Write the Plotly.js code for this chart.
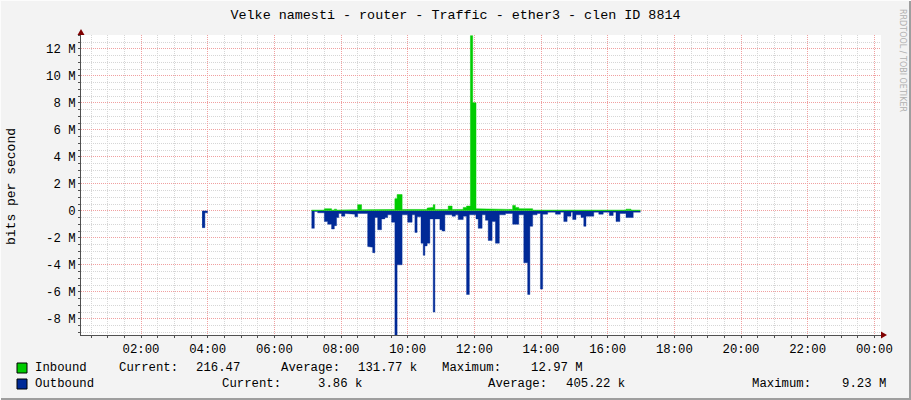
<!DOCTYPE html>
<html><head><meta charset="utf-8">
<script src="https://cdn.plot.ly/plotly-3.0.1.min.js"></script>
<style>html,body{margin:0;padding:0;background:#f3f3f3;}#chart{width:911px;height:400px;}</style>
</head><body><div id="chart"></div>
<script>
const DAY = '2020-01-01';
const NEXT = '2020-01-02';
const chartTitle = 'Velke namesti - router - Traffic - ether3 - clen ID 8814';
const yAxisTitle = 'bits per second';

// Inbound (bits/s), step segments starting at each time; null = no data from there
const inTimes = ['07:07','07:30','07:43','07:48','07:52','08:01','08:30','08:37','08:48','09:37','09:41','09:50','10:35','10:40','10:46','10:49','11:13','11:20','11:40','11:46','11:53','11:57','12:03','12:45','12:56','13:09','13:14','13:20','13:45','16:33','16:42','16:59'];
const inValues = [50e3,150e3,50e3,120e3,50e3,80e3,450e3,80e3,100e3,900e3,1200e3,100e3,200e3,250e3,450e3,100e3,350e3,100e3,250e3,350e3,12970e3,8000e3,150e3,120e3,100e3,400e3,250e3,150e3,50e3,120e3,50e3,null];

// Outbound (bits/s), drawn below zero
const outTimes = ['03:50','03:55','04:00','07:07','07:12','07:18','07:30','07:36','07:43','07:48','07:52','07:56','08:01','08:07','08:12','08:25','08:30','08:48','08:53','08:57','09:01','09:06','09:13','09:19','09:24','09:31','09:37','09:41','09:50','10:00','10:08','10:13','10:17','10:24','10:28','10:31','10:35','10:40','10:46','10:49','10:58','11:02','11:07','11:20','11:26','11:31','11:40','11:46','11:51','12:03','12:07','12:14','12:20','12:25','12:32','12:38','12:45','12:56','13:09','13:20','13:29','13:36','13:40','13:45','13:53','13:59','14:03','14:12','14:26','14:35','14:41','14:47','14:54','14:57','15:03','15:12','15:17','15:21','15:35','15:44','15:52','16:03','16:10','16:15','16:22','16:33','16:46','16:59'];
const outValues = [1250e3,150e3,null,1300e3,50e3,150e3,800e3,1000e3,1350e3,1100e3,500e3,200e3,400e3,200e3,250e3,450e3,200e3,2650e3,2700e3,3100e3,500e3,1400e3,600e3,500e3,300e3,850e3,9230e3,4000e3,300e3,850e3,300e3,1600e3,450e3,2400e3,3300e3,2600e3,2400e3,600e3,7500e3,600e3,1400e3,1500e3,300e3,400e3,300e3,650e3,400e3,6200e3,300e3,600e3,1300e3,300e3,700e3,2200e3,800e3,2400e3,300e3,200e3,1000e3,300e3,3850e3,6200e3,1150e3,300e3,200e3,5800e3,250e3,100e3,250e3,100e3,800e3,400e3,100e3,650e3,300e3,500e3,1150e3,400e3,100e3,250e3,100e3,350e3,100e3,800e3,200e3,500e3,100e3,null];

const yTickVals = [-8e6,-6e6,-4e6,-2e6,0,2e6,4e6,6e6,8e6,10e6,12e6];
const yTickText = ['-8 M','-6 M','-4 M','-2 M','0','2 M','4 M','6 M','8 M','10 M','12 M'];

const seriesNames = ['Inbound','Outbound'];
const seriesColors = ['#00cc00','#002a97'];
const statLabels = ['Current:','Average:','Maximum:'];
const inboundStats = ['216.47','131.77 k','12.97 M'];
const outboundStats = ['3.86 k','405.22 k','9.23 M'];

// split into continuous runs of step segments
function runs(times, vals, sign){
  const out=[]; let cur=null;
  for(let i=0;i<times.length;i++){
    if(vals[i]===null){ if(cur){out.push(cur); cur=null;} continue; }
    if(!cur) cur={x:[],y:[]};
    cur.x.push(DAY+' '+times[i], DAY+' '+times[i+1]);
    cur.y.push(sign*vals[i], sign*vals[i]);
  }
  if(cur) out.push(cur);
  return out;
}

const L=81, T=35, W=800, H=300;
const px = v => (v-L)/W;
const py = v => (T+H-v)/H;

const traces = [];
runs(outTimes, outValues, -1).forEach(r=>traces.push({x:r.x, y:r.y, type:'scatter', mode:'lines', fill:'tozeroy',
  fillcolor:seriesColors[1], line:{color:seriesColors[1], width:0.4}, hoverinfo:'skip', name:seriesNames[1]}));
runs(inTimes, inValues, 1).forEach(r=>traces.push({x:r.x, y:r.y, type:'scatter', mode:'lines', fill:'tozeroy',
  fillcolor:seriesColors[0], line:{color:seriesColors[0], width:0.5}, hoverinfo:'skip', name:seriesNames[0]}));

const FONT = 'Liberation Mono, DejaVu Sans Mono, monospace';
const ann = [];
function txt(x, y, s, opt){ ann.push(Object.assign({xref:'paper', yref:'paper', x:px(x), y:py(y), text:s, showarrow:false,
  xanchor:'left', yanchor:'middle', font:{family:FONT, size:12.3, color:'#000'}}, opt||{})); }

txt(12, 187, yAxisTitle, {xanchor:'center', textangle:-90, font:{family:FONT, size:13, color:'#000'}});
txt(903, 60, 'RRDTOOL / TOBI OETIKER', {xanchor:'center', textangle:90, font:{family:'DejaVu Sans', size:8, color:'#b0b0b0'}});

// legend rows
txt(33, 368, seriesNames[0]);
const row1X = [[117,194],[279,356],[440,529]];
statLabels.forEach((s,i)=>{ txt(row1X[i][0],368,s); txt(row1X[i][1],368,inboundStats[i]); });
txt(33, 384, seriesNames[1]);
const row2X = [[220,316],[486,564],[750,840]];
statLabels.forEach((s,i)=>{ txt(row2X[i][0],384,s); txt(row2X[i][1],384,outboundStats[i]); });

const shapes = [
  {type:'rect', xref:'paper', yref:'paper', x0:px(17), x1:px(27), y0:py(373), y1:py(363), fillcolor:seriesColors[0], line:{color:'#000', width:1}},
  {type:'rect', xref:'paper', yref:'paper', x0:px(17), x1:px(27), y0:py(389), y1:py(379), fillcolor:seriesColors[1], line:{color:'#000', width:1}},
  {type:'path', xref:'paper', yref:'paper', path:`M ${px(77.5)} ${py(35)} L ${px(84.5)} ${py(35)} L ${px(81)} ${py(29)} Z`, fillcolor:'#800000', line:{width:0}},
  {type:'path', xref:'paper', yref:'paper', path:`M ${px(881)} ${py(331.5)} L ${px(881)} ${py(338.5)} L ${px(887)} ${py(335)} Z`, fillcolor:'#800000', line:{width:0}},
  {type:'line', xref:'paper', yref:'paper', x0:px(0), x1:px(911), y0:py(399), y1:py(399), line:{color:'#9e9e9e', width:2}},
  {type:'line', xref:'paper', yref:'paper', x0:px(910), x1:px(910), y0:py(0), y1:py(400), line:{color:'#9e9e9e', width:2}},
  {type:'line', xref:'paper', yref:'paper', x0:px(0), x1:px(911), y0:py(0.5), y1:py(0.5), line:{color:'#fcfcfc', width:1}},
  {type:'line', xref:'paper', yref:'paper', x0:px(0.5), x1:px(0.5), y0:py(0), y1:py(400), line:{color:'#fcfcfc', width:1}}
];

const layout = {
  width:911, height:400,
  margin:{l:L, r:911-L-W, t:T, b:400-T-H},
  paper_bgcolor:'#f3f3f3', plot_bgcolor:'#ffffff',
  showlegend:false,
  title:{text: chartTitle, x:0.5, xref:'container', xanchor:'center', y:1-14/400, yref:'container', yanchor:'middle',
    font:{family:FONT, size:13.4, color:'#000'}},
  xaxis:{type:'date', range:[DAY+' 00:12', NEXT+' 00:12'], dtick:7200000, tick0:DAY+' 00:00', tickformat:'%H:%M',
    showgrid:true, gridcolor:'#f0a0a0', griddash:'1px,1px', gridwidth:1,
    showline:true, linecolor:'#505050', linewidth:1, ticks:'outside', ticklen:2, tickcolor:'#505050',
    tickfont:{family:FONT, size:12.3, color:'#000'}, zeroline:false, fixedrange:true,
    minor:{dtick:1800000, tick0:DAY+' 00:00', showgrid:true, gridcolor:'#d6d6d6', griddash:'1px,1px', ticks:'outside', ticklen:2, tickcolor:'#505050'}},
  yaxis:{range:[-9.2e6, 13.02e6], tickvals:yTickVals, ticktext:yTickText,
    showgrid:true, gridcolor:'#f0a0a0', griddash:'1px,1px', gridwidth:1,
    showline:true, linecolor:'#505050', linewidth:1, ticks:'outside', ticklen:2, tickcolor:'#505050',
    tickfont:{family:FONT, size:12.3, color:'#000'}, zeroline:false, fixedrange:true,
    minor:{dtick:500000, tick0:0, showgrid:true, gridcolor:'#d6d6d6', griddash:'1px,1px', ticks:'outside', ticklen:2, tickcolor:'#505050'}},
  annotations: ann,
  shapes: shapes
};

Plotly.newPlot('chart', traces, layout, {displayModeBar:false, staticPlot:true});
</script></body></html>
